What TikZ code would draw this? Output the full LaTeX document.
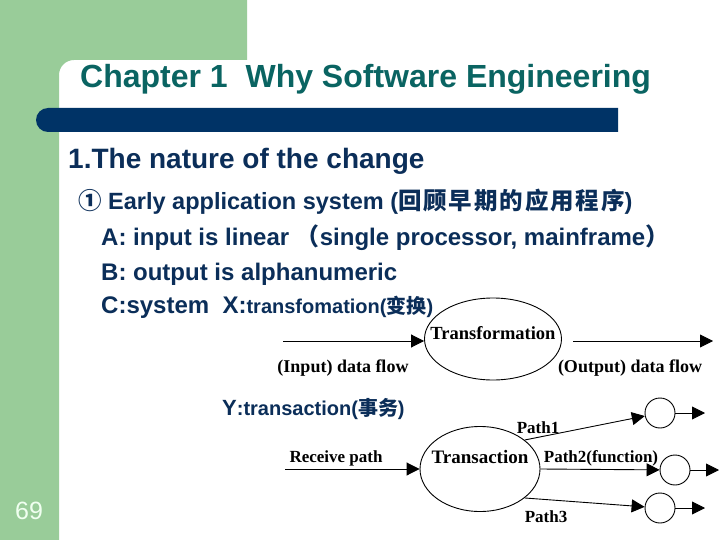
\documentclass[tikz,border=0pt]{standalone}
\usepackage{fontspec}
\setmainfont{Liberation Sans}
\newfontfamily\serifb{Liberation Serif}
\newfontfamily\cjk{Noto Sans CJK SC}
\newfontfamily\cjkw[LetterSpace=8]{Noto Sans CJK SC}
\usetikzlibrary{shapes.geometric,arrows.meta}
\definecolor{slgreen}{HTML}{99CC99}
\definecolor{barblue}{HTML}{003366}
\definecolor{titlec}{HTML}{0A6462}
\definecolor{bodyc}{HTML}{0B2E59}
\definecolor{pgnum}{HTML}{F0FFF0}
\begin{document}
\begin{tikzpicture}[x=1pt,y=-1pt,
  body/.style={anchor=base west, inner sep=0pt, text=bodyc, font=\bfseries\fontsize{24}{28}\selectfont},
  lab/.style={inner sep=0pt, font=\serifb\bfseries\fontsize{17}{20}\selectfont},
  labbig/.style={inner sep=0pt, font=\serifb\bfseries\fontsize{18}{22}\selectfont},
  flow/.style={line width=0.9pt, -{Triangle[length=13pt,width=13pt]}},
  bubble/.style={ellipse, draw, line width=0.9pt, inner sep=0pt},
  smallc/.style={circle, draw, line width=0.9pt, minimum size=30pt, inner sep=0pt}]
\useasboundingbox (0,0) rectangle (720,540);
\fill[white] (0,0) rectangle (720,540);
% slide background
\fill[slgreen] (0,0) -- (247,0) -- (247,60) -- (74,60)
  arc[start angle=270, end angle=180, radius=15] -- (59,540) -- (0,540) -- cycle;
\fill[barblue] (618,108) -- (48,108) arc[start angle=270, end angle=90, radius=12] -- (618,132) -- cycle;
% title
\node[anchor=base west, inner sep=0pt, text=titlec, font=\bfseries\fontsize{32}{38}\selectfont] (title) at (80,88) {Chapter 1~ Why Software Engineering};
% body
\node[body, font=\bfseries\fontsize{28}{32}\selectfont] (h1) at (68,169) {1.The nature of the change};
\node[body, font=\bfseries\fontsize{23.5}{28}\selectfont] (l2) at (78,210) {{\cjk ①} Early application system ({\cjkw 回顾早期的应用程序})};
\node[body] (l3) at (101,245) {A: input is linear {\cjk （}single processor, mainframe{\cjk ）}};
\node[body] (l4) at (101,280) {B: output is alphanumeric};
\node[body] (l5) at (101,313) {C:system~ X:{\fontsize{20}{24}\selectfont transfomation({\cjk 变换})}};
\node[body] (l6) at (222,415) {{\fontsize{22}{24}\selectfont Y}{\fontsize{20}{24}\selectfont :transaction({\cjk 事务})}};
\node[anchor=base west, inner sep=0pt, text=pgnum, font=\fontsize{25}{30}\selectfont] (pg) at (15,519) {69};
% transformation diagram
\node[bubble, minimum width=137pt, minimum height=82pt,
  label={[labbig, font=\serifb\bfseries\fontsize{18.5}{22}\selectfont, yshift=6pt]center:Transformation}] (tf) at (493,339) {};
\coordinate (inA) at (283,341);
\draw[flow] (inA) -- (inA -| tf.west);
\coordinate (outA) at (573,341);
\coordinate (outB) at (713,341);
\draw[flow] (outA) -- (outB);
\node[labbig] (inlab) at (343,368) {(Input) data flow};
\node[labbig] (outlab) at (630,368) {(Output) data flow};
% transaction diagram
\node[bubble, minimum width=120pt, minimum height=85pt,
  label={[lab, font=\serifb\bfseries\fontsize{19}{22}\selectfont, yshift=12pt]center:Transaction}] (trn) at (480,469) {};
\coordinate (rcv) at (285,469);
\draw[flow] (rcv) -- (trn.west);
\node[lab] (rcvlab) at (336,458) {Receive path};
\node[smallc] (c1) at (660,413) {};
\node[smallc] (c2) at (675,470) {};
\node[smallc] (c3) at (660,508) {};
\draw[flow] (trn.33) -- (c1);
\draw[flow] (trn.east) -- (c2);
\draw[flow] (trn.-33) -- (c3);
\coordinate (o1) at (705,413);
\coordinate (o2) at (719,470);
\coordinate (o3) at (705,508);
\draw[flow] (c1) -- (o1);
\draw[flow] (c2) -- (o2);
\draw[flow] (c3) -- (o3);
\node[lab] (p1) at (538,428) {Path1};
\node[lab] (p2) at (601,458) {Path2(function)};
\node[lab] (p3) at (546,517) {Path3};
\end{tikzpicture}
\end{document}
